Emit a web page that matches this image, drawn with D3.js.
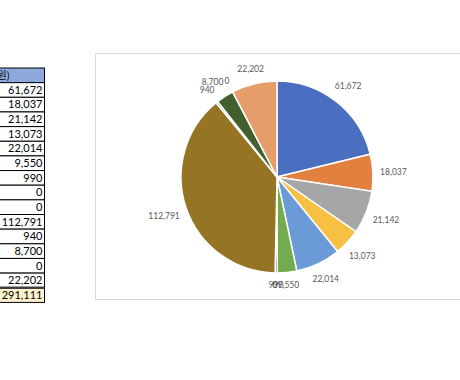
<!DOCTYPE html>
<html>
<head>
<meta charset="utf-8">
<script src="https://cdn.jsdelivr.net/npm/d3@7"></script>
<style>
  body { margin: 0; background: #fff; }
  svg { display: block; }
</style>
</head>
<body>
<div id="viz"></div>
<script>
const values = [61672, 18037, 21142, 13073, 22014, 9550, 990, 0, 0, 112791, 940, 8700, 0, 22202]
const colors = ['#4A6FC0', '#E2803F', '#A6A6A6', '#F6C143', '#6A9BD6', '#72AC4F', '#264478',
                '#9E480E', '#636363', '#957424', '#255E91', '#435F2E', '#698ED0', '#E59D6A']
const headerText = '(천원)'
const totalValue = 291111

const width = 460,
      height = 380;

const fmt = d3.format(',')

let svg = d3.select('#viz')
            .append('svg')
            .attr('width', width)
            .attr('height', height)
            .style('background', '#fff')

// ---- table on the left (mostly cut off) ----
const rowH = 14.65,
      tableTop = 68,
      tableRight = 44.5;

let rows = [{ text: headerText, kind: 'head' }]
  .concat(values.map(v => ({ text: fmt(v), kind: 'data' })))
  .concat([{ text: fmt(totalValue), kind: 'total' }])

let yRow = d3.scaleLinear()
             .domain([0, rows.length])
             .range([tableTop, tableTop + rows.length * rowH])

let table = svg.append('g')

table.selectAll('rect')
     .data(rows)
     .enter()
       .append('rect')
       .attr('x', -20)
       .attr('y', (d, i) => yRow(i))
       .attr('width', tableRight + 20)
       .attr('height', rowH)
       .style('fill', d => d.kind === 'head' ? '#8EA9DB' : (d.kind === 'total' ? '#FFF2CC' : '#fff'))
       .style('stroke', '#000')
       .style('stroke-width', 1)

// heavier rule above the total row
table.append('line')
     .attr('x1', 0).attr('x2', tableRight)
     .attr('y1', yRow(rows.length - 1)).attr('y2', yRow(rows.length - 1))
     .style('stroke', '#404040')
     .style('stroke-width', 2.5)

table.selectAll('text')
     .data(rows)
     .enter()
       .append('text')
       .attr('x', d => d.kind === 'head' ? 10 : tableRight - 2)
       .attr('y', (d, i) => yRow(i) + rowH / 2)
       .attr('dy', '0.35em')
       .attr('text-anchor', 'end')
       .style('font-family', d => d.kind === 'head' ? '"Noto Sans CJK KR", sans-serif' : 'Lato, "Open Sans", sans-serif')
       .style('font-size', d => d.kind === 'head' ? '10px' : '11px')
       .style('fill', '#000')
       .text(d => d.text)

// ---- chart box ----
svg.append('rect')
   .attr('x', 95.5)
   .attr('y', 53.5)
   .attr('width', 400)
   .attr('height', 246)
   .style('fill', '#fff')
   .style('stroke', '#D9D9D9')
   .style('stroke-width', 1)

const cx = 277,
      cy = 177,
      radius = 96;

let pie = d3.pie().sort(null).value(d => d)
let arcs = pie(values)

let arc = d3.arc().innerRadius(0).outerRadius(radius)

let g = svg.append('g')
           .attr('transform', `translate(${cx},${cy})`)

g.selectAll('path')
 .data(arcs)
 .enter()
   .append('path')
   .attr('d', arc)
   .style('fill', (d, i) => colors[i])
   .style('stroke', '#fff')
   .style('stroke-width', 1.5)

// labels placed just outside the rim, pushed out by their own box
let labels = g.selectAll('text')
              .data(arcs)
              .enter()
                .append('text')
                .attr('text-anchor', 'middle')
                .attr('dy', '0.35em')
                .style('font-family', 'Lato, "Open Sans", sans-serif')
                .style('font-size', '8.5px')
                .style('fill', '#595959')
                .text(d => fmt(d.data))

let placed = []
labels.each(function(d) {
  let box = this.getBBox()
  let a = (d.startAngle + d.endAngle) / 2
  let s = Math.sin(a), c = -Math.cos(a)
  let ext = Math.abs(s) * box.width / 2 + Math.abs(c) * box.height / 2
  let dist = radius + 7 + ext
  d.lx = s * dist
  d.ly = c * dist
  d.w = box.width
  d.h = box.height
  d.a = a
})

// upper-left crowd: walk back from the top and slide labels left off each other
let crowd = arcs.filter(d => d.a > 1.5 * Math.PI).reverse()
crowd.forEach(d => {
  placed.forEach(p => {
    let overX = (d.w + p.w) / 2 - Math.abs(d.lx - p.lx)
    let overY = (d.h + p.h) / 2 - Math.abs(d.ly - p.ly)
    if (overX > 0 && overY > 5) d.lx -= overX + 1
  })
  placed.push(d)
})

labels.attr('x', d => d.lx)
      .attr('y', d => d.ly)
</script>
</body>
</html>
